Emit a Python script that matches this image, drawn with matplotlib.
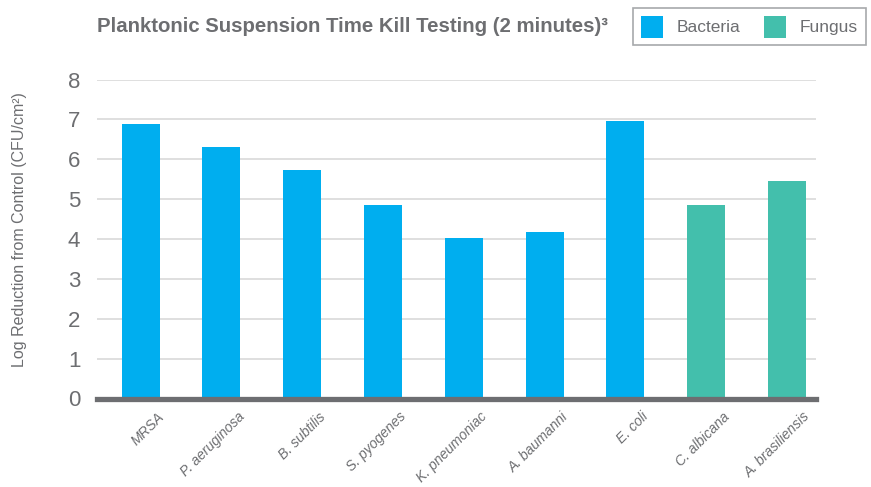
import matplotlib
matplotlib.use("Agg")
import matplotlib.pyplot as plt
from matplotlib.patches import Patch

# Gegevens
organisms = ["MRSA", "P. aeruginosa", "B. subtilis", "S. pyogenes", "K. pneumoniac",
             "A. baumanni", "E. coli", "C. albicana", "A. brasiliensis"]
log_reduction = [6.88, 6.30, 5.72, 4.85, 4.02, 4.17, 6.95, 4.85, 5.45]
groups = ["Bacteria"] * 7 + ["Fungus"] * 2
y_ticks = [0, 1, 2, 3, 4, 5, 6, 7, 8]

colors = {"Bacteria": "#00aeef", "Fungus": "#43bfac"}
grey = "#6d6e71"
font = "Liberation Sans"

fig = plt.figure(figsize=(8.71, 4.87), dpi=100)
ax = fig.add_axes([97 / 871, 1 - 398.5 / 487, 719 / 871, 319 / 487])

x = list(range(len(organisms)))
ax.bar(x, log_reduction, width=0.47, color=[colors[g] for g in groups], zorder=2)

ax.set_xlim(-0.54, 8.36)
ax.set_ylim(0, 8)
ax.set_yticks(y_ticks)
ax.set_yticklabels([str(t) for t in y_ticks], fontsize=16, color=grey, family=font)
for t in y_ticks[1:]:
    ax.axhline(t, color="#dcdcdc", lw=1.3, zorder=1)

# labels staan in het origineel iets rechts van het midden van de staaf
ax.set_xticks([i + 0.2 for i in x])
ax.set_xticklabels(organisms, rotation=45, ha="right", va="top", rotation_mode="anchor",
                   fontsize=10, style="italic", color=grey, family=font)
ax.tick_params(axis="both", length=0)
ax.tick_params(axis="y", pad=12)
ax.tick_params(axis="x", pad=8)

for side in ["top", "right", "left"]:
    ax.spines[side].set_visible(False)
ax.spines["bottom"].set_color(grey)
ax.spines["bottom"].set_linewidth(3.8)
ax.spines["bottom"].set_zorder(3)

ax.set_ylabel("Log Reduction from Control (CFU/cm²)", fontsize=11.5, color=grey, family=font)
ax.yaxis.set_label_coords(-70 / 719, 0.53)

fig.text(97 / 871, 1 - 27 / 487, "Planktonic Suspension Time Kill Testing (2 minutes)³",
         fontsize=14.7, fontweight="bold", color=grey, family=font,
         va="center", ha="left")

handles = [Patch(facecolor=colors[g], edgecolor="none", label=g) for g in ["Bacteria", "Fungus"]]
leg = fig.legend(handles=handles, ncol=2, loc="upper right",
                 bbox_to_anchor=(866 / 871, 1 - 8 / 487),
                 prop={"family": font, "size": 12.5}, labelcolor=grey,
                 fancybox=False, edgecolor="#a7a9ac", framealpha=1,
                 handlelength=1.25, handleheight=1.55, handletextpad=0.8,
                 columnspacing=1.4, borderpad=0.45, borderaxespad=0)
leg.get_frame().set_linewidth(1.2)

fig.savefig("out.png", dpi=100)
